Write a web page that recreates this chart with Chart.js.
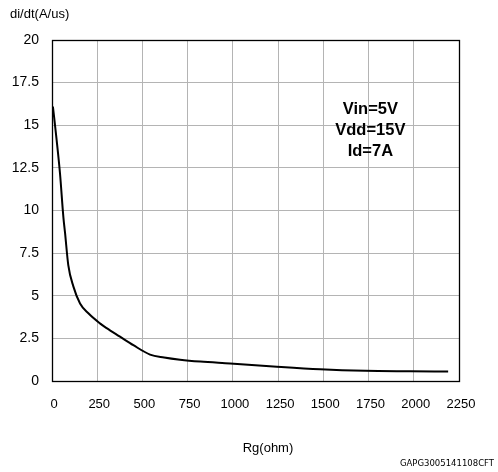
<!DOCTYPE html>
<html>
<head>
<meta charset="utf-8">
<script src="https://cdn.jsdelivr.net/npm/chart.js@4/dist/chart.umd.min.js"></script>
<style>
html,body{margin:0;padding:0;background:#fff;}
#wrap{width:498px;height:472px;position:relative;}
</style>
</head>
<body>
<div id="wrap"><canvas id="c" width="498" height="472"></canvas></div>
<script>
// Data
const rgOhm = [5, 26, 44, 63, 72, 90, 118, 155, 201, 265, 302, 376, 450, 542, 620, 708, 820, 985, 1243, 1482, 1731, 1980, 2190];
const didt  = [16.1, 14.1, 12.2, 9.6, 8.7, 6.8, 5.55, 4.55, 3.97, 3.38, 3.1, 2.6, 2.1, 1.55, 1.38, 1.25, 1.14, 1.03, 0.84, 0.69, 0.6, 0.57, 0.55];
const xTicks = [0, 250, 500, 750, 1000, 1250, 1500, 1750, 2000, 2250];
const yTicks = [0, 2.5, 5, 7.5, 10, 12.5, 15, 17.5, 20];
const annotationLines = ["Vin=5V", "Vdd=15V", "Id=7A"];
const yTitle = "di/dt(A/us)";
const xTitle = "Rg(ohm)";
const footer = "GAPG3005141108CFT";

const points = rgOhm.map((x, i) => ({x: x, y: didt[i]}));
const FONT = "'Liberation Sans', Arial, sans-serif";

const textPlugin = {
  id: 'texts',
  afterDraw(chart) {
    const ctx = chart.ctx;
    const a = chart.chartArea;
    ctx.save();
    // frame
    ctx.strokeStyle = '#000';
    ctx.lineWidth = 1.3;
    ctx.strokeRect(a.left + 0.5, a.top + 0.5, a.right - a.left, a.bottom - a.top);
    // axis titles
    ctx.fillStyle = '#000';
    ctx.font = '13px ' + FONT;
    ctx.textBaseline = 'middle';
    ctx.textAlign = 'left';
    ctx.fillText(yTitle, 10, 14);
    ctx.textAlign = 'center';
    ctx.fillText(xTitle, 268, 448);
    // annotation
    ctx.font = 'bold 16.5px ' + FONT;
    const xs = chart.scales.x;
    const cx = xs.getPixelForValue(1760);
    const ys = [109, 130, 151];
    annotationLines.forEach((t, i) => {
      ctx.fillText(t, cx, ys[i]);
    });
    // footer
    ctx.font = '8.5px "DejaVu Sans", sans-serif';
    ctx.textAlign = 'right';
    ctx.fillText(footer, 494, 464);
    ctx.restore();
  }
};

new Chart(document.getElementById('c'), {
  type: 'line',
  data: {
    datasets: [{
      data: points,
      borderColor: '#000',
      borderWidth: 2,
      pointRadius: 0,
      fill: false,
      cubicInterpolationMode: 'monotone'
    }]
  },
  options: {
    responsive: false,
    animation: false,
    layout: { padding: { left: 0, right: 39, top: 40, bottom: 0 } },
    plugins: { legend: { display: false }, tooltip: { enabled: false } },
    scales: {
      x: {
        type: 'linear',
        min: 0, max: 2250,
        afterBuildTicks(scale) { scale.ticks = xTicks.map(v => ({value: v})); },
        afterFit(scale) { scale.height = 91; },
        grid: { color: '#b4b4b4', lineWidth: 1, drawTicks: false },
        border: { display: false },
        ticks: { color: '#000', font: { size: 13, family: FONT }, padding: 16, maxRotation: 0, labelOffset: 2,
                 callback: (v) => String(v) }
      },
      y: {
        type: 'linear',
        min: 0, max: 20,
        afterBuildTicks(scale) { scale.ticks = yTicks.map(v => ({value: v})); },
        afterFit(scale) { scale.width = 52; },
        grid: { color: '#b4b4b4', lineWidth: 1, drawTicks: false },
        border: { display: false },
        ticks: { color: '#000', font: { size: 14, family: FONT }, padding: 13,
                 callback: (v) => String(v) }
      }
    }
  },
  plugins: [textPlugin]
});
</script>
</body>
</html>
